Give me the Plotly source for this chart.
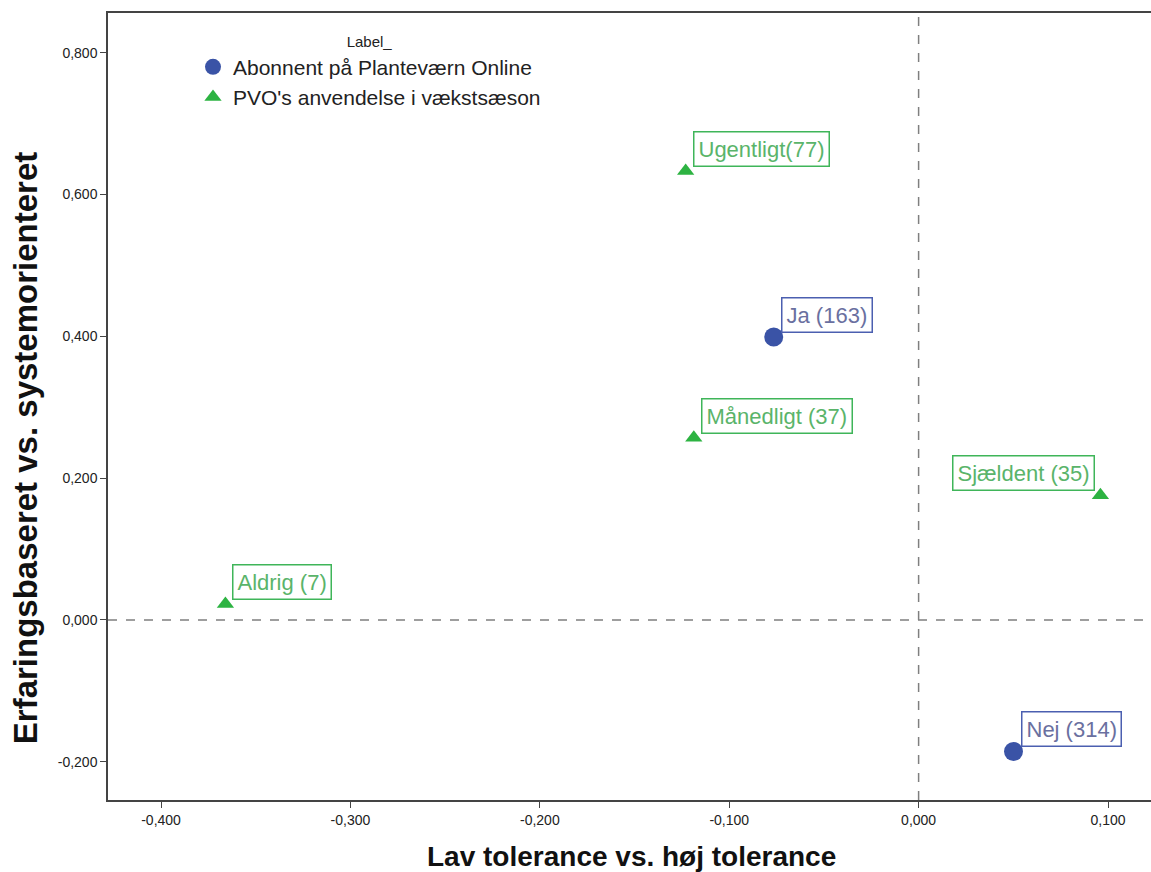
import plotly.graph_objects as go

# Data
abonnent_labels = ["Ja (163)", "Nej (314)"]
abonnent_x = [-0.0765, 0.0501]
abonnent_y = [0.399, -0.1855]

pvo_labels = ["Ugentligt(77)", "Månedligt (37)", "Sjældent (35)", "Aldrig (7)"]
pvo_x = [-0.123, -0.1187, 0.096, -0.366]
pvo_y = [0.633, 0.257, 0.176, 0.0226]

series_names = ["Abonnent på Planteværn Online", "PVO's anvendelse i vækstsæson"]
x_title = "Lav tolerance vs. høj tolerance"
y_title = "Erfaringsbaseret vs. systemorienteret"
legend_title = "Label_"
x_ticks = [-0.4, -0.3, -0.2, -0.1, 0.0, 0.1]
y_ticks = [-0.2, 0.0, 0.2, 0.4, 0.6, 0.8]


def fmt(v):
    return "{:.3f}".format(v).replace(".", ",")


BLUE = "#3a53a6"
GREEN = "#2db342"
BLUE_TXT = "#6a70a0"
GREEN_TXT = "#5ab46a"
BLUE_BORDER = "#4b5fb0"
GREEN_BORDER = "#3fb559"

fig = go.Figure()
fig.add_trace(go.Scatter(
    x=abonnent_x, y=abonnent_y, mode="markers", name=series_names[0],
    marker=dict(symbol="circle", size=19, color=BLUE),
))
fig.add_trace(go.Scatter(
    x=pvo_x, y=pvo_y, mode="markers", name=series_names[1],
    marker=dict(symbol="triangle-up", size=15, color=GREEN),
))

FONT = "Liberation Sans, Arial, sans-serif"

def add_labels(xs, ys, labels, txt_color, border_color):
    for x, y, t in zip(xs, ys, labels):
        right_side = x > 0.08  # label near the right edge goes to the left of its point
        fig.add_annotation(
            x=x, y=y, xref="x", yref="y", text=t, showarrow=False,
            xanchor="right" if right_side else "left", yanchor="bottom",
            xshift=-5 if right_side else 7, yshift=4,
            font=dict(family=FONT, size=22, color=txt_color),
            bordercolor=border_color, borderwidth=1.5, borderpad=4,
            bgcolor="white",
        )

add_labels(abonnent_x, abonnent_y, abonnent_labels, BLUE_TXT, BLUE_BORDER)
add_labels(pvo_x, pvo_y, pvo_labels, GREEN_TXT, GREEN_BORDER)

# axis titles as annotations for precise placement
fig.add_annotation(
    xref="paper", yref="paper", x=0.502, y=-0.072, xanchor="center", yanchor="middle",
    text="<b>" + x_title + "</b>", showarrow=False,
    font=dict(family=FONT, size=28, color="#111111"),
)
fig.add_annotation(
    xref="paper", yref="paper", x=-0.0796, y=0.447, xanchor="center", yanchor="middle",
    text="<b>" + y_title + "</b>", showarrow=False, textangle=-90,
    font=dict(family=FONT, size=33, color="#111111"),
)

# dashed reference lines at 0
fig.add_shape(type="line", xref="x", yref="paper", x0=0, x1=0, y0=0, y1=1,
              line=dict(color="#7f7f7f", width=1.5, dash="dash"), layer="below")
fig.add_shape(type="line", xref="paper", yref="y", x0=0, x1=1, y0=0, y1=0,
              line=dict(color="#7f7f7f", width=1.5, dash="dash"), layer="below")

fig.update_layout(
    width=1151, height=872,
    margin=dict(l=108, r=0, t=13, b=72),
    paper_bgcolor="white", plot_bgcolor="white",
    font=dict(family=FONT, color="#222222"),
    showlegend=True,
    legend=dict(
        x=0.0815, y=0.982, xanchor="left", yanchor="top",
        bgcolor="rgba(0,0,0,0)",
        font=dict(family=FONT, size=21, color="#222222"),
        title=dict(text=legend_title, side="top center",
                   font=dict(family=FONT, size=15, color="#222222")),
        itemsizing="trace",
    ),
    xaxis=dict(
        range=[-0.428, 0.1227], tickvals=x_ticks, ticktext=[fmt(v) for v in x_ticks],
        showgrid=False, zeroline=False,
        showline=True, linecolor="#444444", linewidth=1.5, mirror=True,
        ticks="outside", ticklen=6, tickcolor="#444444",
        tickfont=dict(family=FONT, size=14, color="#222222"),
    ),
    yaxis=dict(
        range=[-0.254, 0.856], tickvals=y_ticks, ticktext=[fmt(v) for v in y_ticks],
        showgrid=False, zeroline=False,
        showline=True, linecolor="#444444", linewidth=1.5,
        ticks="outside", ticklen=6, tickcolor="#444444",
        tickfont=dict(family=FONT, size=14, color="#222222"),
    ),
)

fig.write_html(
    "out.html",
    config={"displayModeBar": False},
    post_script="document.body.style.margin='0';document.body.style.overflow='hidden';",
)
